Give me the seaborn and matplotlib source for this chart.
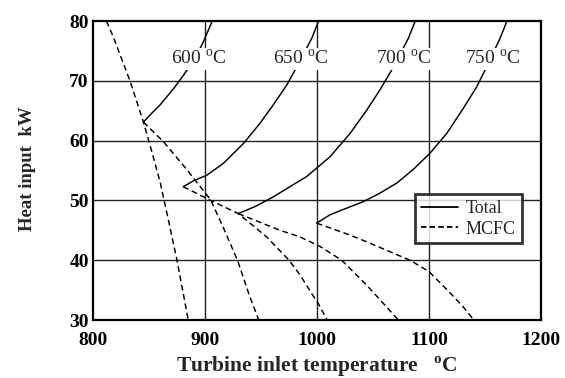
import matplotlib
matplotlib.use("Agg")
import matplotlib.pyplot as plt
from matplotlib.lines import Line2D
import seaborn as sns
import pandas as pd

# Total heat input curves for each MCFC operating temperature (x: TIT degC, y: kW)
total_600_x = [845, 852, 860, 872, 880.6, 890, 898.5, 906]
total_600_y = [63.1, 64.5, 66.0, 68.7, 70.9, 73.4, 76.5, 79.8]
total_650_x = [880.6, 890, 901.5, 916.4, 934.2, 949.1, 961, 973, 980.4, 995.3, 1001.2]
total_650_y = [52.3, 53.3, 54.2, 56.2, 59.5, 62.9, 66.0, 69.3, 71.8, 77.1, 79.9]
total_700_x = [929.7, 945, 961, 975, 990.8, 1011.6, 1029.5, 1044.4, 1056.2, 1066.7, 1081.5, 1087.5]
total_700_y = [47.8, 49.0, 50.6, 52.2, 54.0, 57.3, 61.2, 65.1, 68.5, 71.8, 77.1, 79.9]
total_750_x = [999.7, 1011.6, 1025, 1041.4, 1056, 1071.2, 1086, 1100.9, 1115.8, 1130.6, 1142.6, 1150, 1163.4, 1169.4]
total_750_y = [46.2, 47.6, 48.6, 49.8, 51.2, 52.9, 55.2, 57.9, 61.2, 65.4, 69.0, 71.8, 77.1, 79.9]

# MCFC heat input curves
mcfc_edge_x = [812, 818, 833, 845, 852, 860, 867, 875, 885]
mcfc_edge_y = [80.0, 77.4, 70.0, 63.1, 58.5, 53.0, 47.0, 40.0, 30.0]
mcfc_600_x = [845, 863, 884, 905, 916, 929, 940, 948]
mcfc_600_y = [63.1, 59.8, 55.1, 50.1, 45.6, 40.0, 33.9, 30.0]
mcfc_650_x = [880.6, 905, 929.7, 955, 975, 985, 997, 1001, 1009]
mcfc_650_y = [52.3, 50.0, 47.8, 43.9, 40.0, 37.5, 33.9, 32.8, 30.0]
mcfc_700_x = [929.7, 967, 984.8, 1002.7, 1022, 1044, 1062, 1072.6]
mcfc_700_y = [47.8, 45.0, 43.9, 42.3, 40.0, 35.9, 32.2, 30.0]
mcfc_750_x = [999.7, 1029.5, 1044, 1083, 1100, 1119, 1130, 1140]
mcfc_750_y = [46.2, 44.2, 43.1, 40.0, 38.1, 34.5, 32.3, 30.0]

# Curve labels (MCFC temperature) and their positions
temp_labels = ["600", "650", "700", "750"]
label_x = [894.6, 985.7, 1077.5, 1156.7]
label_y = [73.7, 73.7, 73.7, 73.7]

x_ticks = [800, 900, 1000, 1100, 1200]
y_ticks = [30, 40, 50, 60, 70, 80]

curves = [
    ("total_600", "Total", total_600_x, total_600_y),
    ("total_650", "Total", total_650_x, total_650_y),
    ("total_700", "Total", total_700_x, total_700_y),
    ("total_750", "Total", total_750_x, total_750_y),
    ("mcfc_edge", "MCFC", mcfc_edge_x, mcfc_edge_y),
    ("mcfc_600", "MCFC", mcfc_600_x, mcfc_600_y),
    ("mcfc_650", "MCFC", mcfc_650_x, mcfc_650_y),
    ("mcfc_700", "MCFC", mcfc_700_x, mcfc_700_y),
    ("mcfc_750", "MCFC", mcfc_750_x, mcfc_750_y),
]
rows = []
for name, kind, xs, ys in curves:
    for xv, yv in zip(xs, ys):
        rows.append({"curve": name, "kind": kind, "tit": xv, "heat": yv})
df = pd.DataFrame(rows)

sns.set_theme(style="white")
plt.rcParams["font.family"] = ["Liberation Serif", "DejaVu Serif"]
plt.rcParams["mathtext.fontset"] = "custom"
plt.rcParams["mathtext.rm"] = "Liberation Serif"
plt.rcParams["mathtext.bf"] = "Liberation Serif:bold"

fig = plt.figure(figsize=(5.65, 3.78), dpi=100)
ax = fig.add_axes([0.1646, 0.1534, 0.793, 0.791])

dash = (4, 2.5)
sns.lineplot(data=df, x="tit", y="heat", units="curve", style="kind",
             estimator=None, sort=False, color="black", linewidth=1.05,
             dashes={"Total": "", "MCFC": dash}, legend=False, ax=ax, zorder=3)

ax.set_xlim(800, 1200)
ax.set_ylim(30, 80)
ax.set_xticks(x_ticks)
ax.set_yticks(y_ticks)
ax.set_xticklabels([str(v) for v in x_ticks], fontsize=14, fontweight="bold")
ax.set_yticklabels([str(v) for v in y_ticks], fontsize=14, fontweight="bold")
ax.tick_params(direction="in", length=4, width=1.6, colors="black")
ax.tick_params(axis="x", pad=8.5)
ax.tick_params(axis="y", pad=3.0)

for v in [900, 1000, 1100]:
    ax.axvline(v, color="#222222", lw=1.0, zorder=1)
for v in [40, 50, 60, 70]:
    ax.axhline(v, color="#222222", lw=1.0, zorder=1)

for s in ax.spines.values():
    s.set_color("black")
    s.set_linewidth(1.6)

for t, lx, ly in zip(temp_labels, label_x, label_y):
    ax.text(lx, ly, t + r" $^{\mathrm{o}}$C", fontsize=14, ha="center", va="center",
            zorder=5, bbox=dict(facecolor="white", edgecolor="none", pad=1.0))

ax.set_xlabel(r"Turbine inlet temperature   $^{\mathbf{o}}$C", fontsize=15.5,
              fontweight="bold")
ax.xaxis.set_label_coords(0.5, -0.115)
ax.set_ylabel("Heat input  kW", fontsize=13.5, fontweight="bold")
ax.yaxis.set_label_coords(-0.127, 0.505)

handles = [Line2D([], [], color="black", lw=1.3),
           Line2D([], [], color="black", lw=1.3, dashes=(3, 1.8))]
leg = ax.legend(handles, ["Total", "MCFC"], loc="upper right",
                bbox_to_anchor=(0.957, 0.421), frameon=True, fancybox=False,
                fontsize=13, handlelength=2.05, handletextpad=0.45,
                borderpad=0.32, labelspacing=0.2, borderaxespad=0)
leg.get_frame().set_edgecolor("black")
leg.get_frame().set_linewidth(2.0)
leg.set_zorder(6)

fig.savefig("out.png", dpi=100)
